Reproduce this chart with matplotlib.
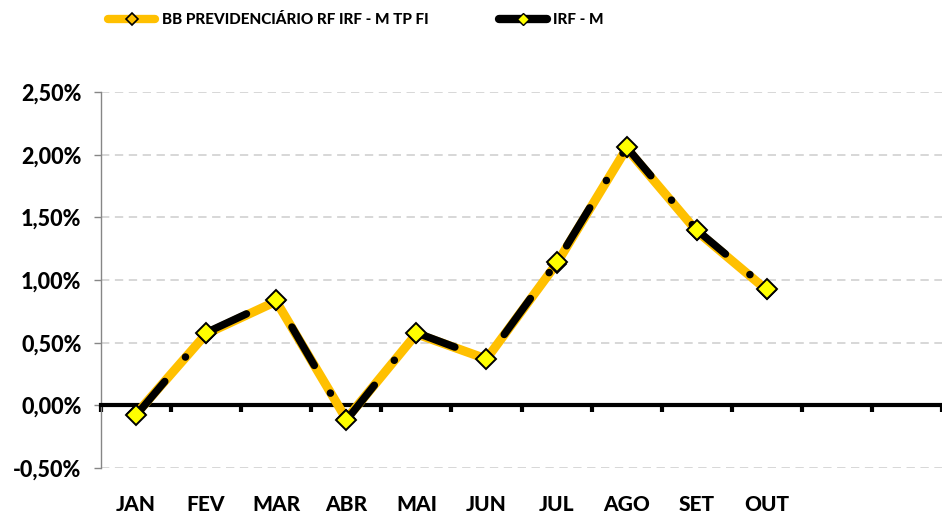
import matplotlib
matplotlib.use("Agg")
import matplotlib.pyplot as plt
from matplotlib.lines import Line2D
import matplotlib.transforms as mtransforms

plt.rcParams['font.family'] = ['Lato', 'DejaVu Sans']
plt.rcParams['lines.scale_dashes'] = False

WEIGHT = 'black'

months = ["JAN", "FEV", "MAR", "ABR", "MAI", "JUN", "JUL", "AGO", "SET", "OUT", "NOV", "DEZ"]
bb_fund = [-0.07, 0.57, 0.83, -0.11, 0.57, 0.37, 1.13, 2.05, 1.39, 0.92]
irf_m = [-0.08, 0.58, 0.84, -0.12, 0.58, 0.37, 1.14, 2.06, 1.40, 0.93]
yticks = [-0.5, 0.0, 0.5, 1.0, 1.5, 2.0, 2.5]
ytick_labels = ["-0,50%", "0,00%", "0,50%", "1,00%", "1,50%", "2,00%", "2,50%"]
series_names = ["BB PREVIDENCIÁRIO RF IRF - M TP FI", "IRF - M"]

W, H = 942, 513
fig = plt.figure(figsize=(W / 100, H / 100), dpi=100)
ax = fig.add_axes([101 / W, 1 - 468 / H, (942 - 101) / W, (468 - 92) / H])

gold = "#FFC000"
yellow = "#FFFF00"

x_bb = list(range(len(bb_fund)))
x_irf = list(range(len(irf_m)))

ax.plot(x_bb, bb_fund, color=gold, lw=6.5, solid_capstyle='round', solid_joinstyle='round',
        marker='D', ms=9.5, mfc=gold, mec='black', mew=1.3, zorder=3)
ax.plot(x_irf, irf_m, color='black', lw=5.4, dashes=(32, 23, 0.1, 23), dash_capstyle='round',
        marker='D', ms=10.5, mfc=yellow, mec='black', mew=1.4, zorder=4)

ax.set_xlim(-0.5, len(months) - 0.5)
ax.set_ylim(-0.5, 2.5)

ax.set_yticks(yticks)
ax.set_yticklabels(ytick_labels, fontsize=15.5, fontweight=WEIGHT)
ax.tick_params(axis='y', length=5, width=1, color='#868686', pad=9)
ax.yaxis.grid(True, color='#d4d4d4', lw=1.3, dashes=(6, 4))
ax.set_axisbelow(True)

for s in ['top', 'right']:
    ax.spines[s].set_visible(False)
ax.spines['left'].set_color('#868686')
ax.spines['left'].set_linewidth(1)
ax.spines['bottom'].set_position(('data', 0))
ax.spines['bottom'].set_linewidth(3)
ax.spines['bottom'].set_color('black')
ax.spines['bottom'].set_zorder(2.5)

ax.set_xticks([i - 0.5 for i in range(len(months) + 1)])
ax.set_xticklabels([])
ax.tick_params(axis='x', length=5, width=3, color='black', direction='out')

trans = mtransforms.blended_transform_factory(ax.transData, ax.transAxes)
for i, m in enumerate(months[:len(irf_m)]):
    ax.text(i, -0.096, m, transform=trans, ha='center', va='center',
            fontsize=15, fontweight=WEIGHT)

handles = [
    Line2D([], [], color=gold, lw=6, solid_capstyle='round', marker='D', ms=6.5,
           mfc=gold, mec='black', mew=1.2),
    Line2D([], [], color='black', lw=6, solid_capstyle='round', marker='D', ms=6.5,
           mfc=yellow, mec='black', mew=1.0),
]
leg = fig.legend(handles, series_names, loc='center', bbox_to_anchor=(356 / W, 1 - 20 / H),
                 ncol=2, frameon=False, handlelength=3.1, handletextpad=0.45,
                 columnspacing=4.6, prop={'weight': WEIGHT, 'size': 11})

fig.savefig("out.png", dpi=100)
